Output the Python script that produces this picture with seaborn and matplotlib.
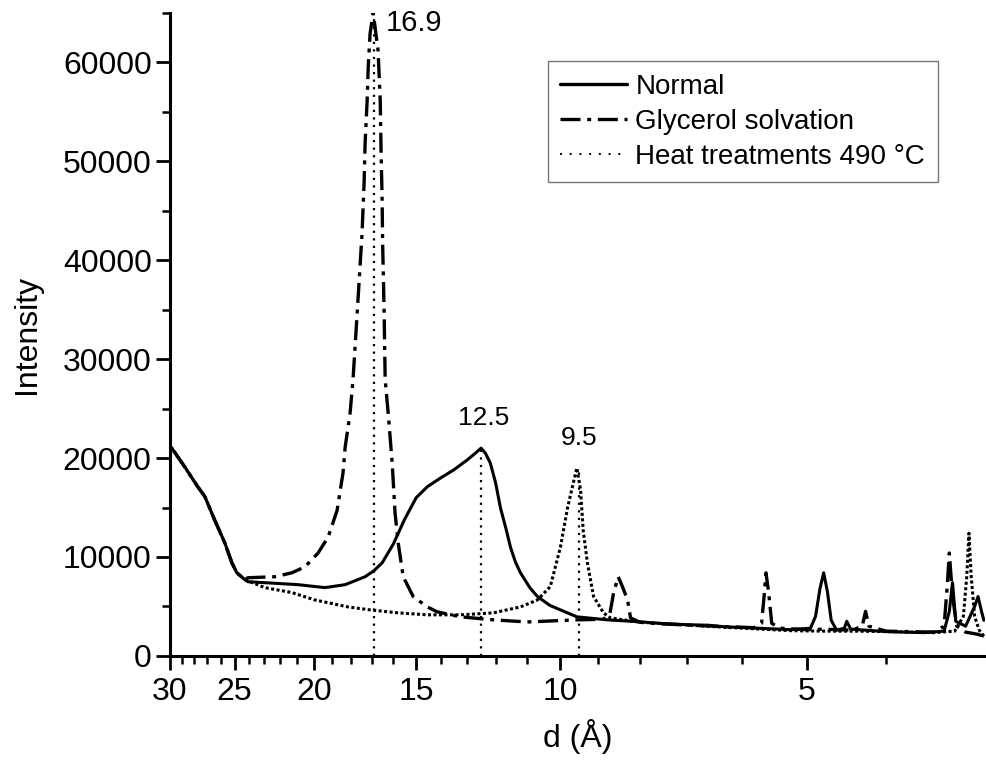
import matplotlib
matplotlib.use("Agg")
from matplotlib import pyplot as plt
from matplotlib.lines import Line2D
from matplotlib.ticker import FixedLocator, NullFormatter
import pandas as pd
import seaborn as sns

# d spacing (A) and intensity
normal_d = [30.0, 29.83, 28.76, 27.73, 27.18, 26.43, 25.69, 25.19, 24.84, 24.29,
            24.08, 22.96, 20.92, 19.39, 18.32, 17.32, 16.9, 16.51, 16.0, 15.5,
            15.0, 14.54, 14.0, 13.5, 13.0, 12.7, 12.5, 12.35, 12.18, 12.0,
            11.84, 11.65, 11.51, 11.35, 11.19, 10.9, 10.67, 10.3, 10.0, 9.55,
            8.76, 8.0, 7.61, 7.0, 6.6, 6.32, 5.74, 5.23, 4.95, 4.88, 4.82, 4.77,
            4.72, 4.67, 4.60, 4.50, 4.47, 4.42, 4.24, 4.0, 3.60, 3.40, 3.35, 3.32,
            3.29, 3.20, 3.12, 3.09, 3.06, 3.04]
normal_i = [21200, 21000, 19100, 17100, 16100, 13700, 11400, 9400, 8400, 7700,
            7500, 7400, 7200, 6900, 7200, 8000, 8600, 9400, 11300, 13800,
            16000, 17100, 18000, 18800, 19800, 20500, 21000, 20500, 19500, 17500,
            15000, 12800, 11000, 9500, 8400, 6900, 6000, 5100, 4650, 3950,
            3640, 3450, 3300, 3150, 3100, 2950, 2800, 2650, 2800, 4000, 6800, 8400,
            6500, 3600, 2600, 2800, 3500, 2700, 2600, 2450, 2350, 2500, 4500, 7400,
            3500, 3000, 5000, 6000, 4500, 3600]

glycerol_d = [30.0, 29.83, 28.76, 27.73, 27.18, 26.43, 25.69, 25.19, 24.84, 24.29,
              24.08, 22.32, 21.28, 20.51, 19.77, 19.22, 18.74, 18.43, 18.32, 18.07,
              17.92, 17.70, 17.47, 17.37, 17.32, 17.22, 17.17, 17.08, 16.93, 16.70,
              16.60, 16.56, 16.51, 16.49, 16.42, 16.37, 16.23, 16.05, 15.92, 15.78,
              15.56, 15.13, 14.54, 14.14, 13.25, 12.07, 10.98, 9.55, 8.86, 8.70,
              8.61, 8.50, 8.40, 8.28, 8.21, 8.0, 7.61, 6.5, 5.80, 5.68, 5.64, 5.61,
              5.57, 5.52, 5.40, 5.0, 4.77, 4.4, 4.28, 4.24, 4.20, 4.0, 3.50, 3.40,
              3.37, 3.35, 3.32, 3.28, 3.20, 3.10, 3.04]
glycerol_i = [21200, 21000, 19100, 17100, 16100, 13700, 11400, 9400, 8400, 7700,
              7900, 8000, 8400, 9000, 10400, 12000, 14700, 18500, 21100, 24500,
              27900, 35000, 42700, 47800, 51800, 56200, 59500, 62900, 65000, 61200,
              56200, 51100, 46100, 42000, 35000, 27900, 24500, 19500, 14400, 11400,
              8000, 6000, 4950, 4450, 3950, 3640, 3430, 3640, 3700, 4300,
              6400, 8000, 7000, 5650, 3840, 3400, 3250, 3000, 2850, 3300, 6000, 8400,
              6500, 3300, 2800, 2650, 2700, 2600, 3000, 4500, 3000, 2500, 2400, 3000,
              7000, 10400, 6000, 3000, 2400, 2200, 2000]

heat_d = [30.0, 29.83, 28.76, 27.73, 27.18, 26.43, 25.69, 25.19, 24.84, 24.29,
          22.96, 21.28, 19.94, 18.17, 17.08, 15.78, 14.54, 13.25, 12.07, 11.19,
          10.67, 10.29, 10.0, 9.80, 9.55, 9.45, 9.38, 9.27, 9.11, 8.86, 8.69,
          8.0, 7.61, 6.32, 5.23, 4.77, 4.36, 3.95, 3.50, 3.30, 3.22, 3.19, 3.17,
          3.15, 3.12, 3.08, 3.04]
heat_i = [21200, 21000, 19100, 17100, 16100, 13700, 11400, 9400, 8400, 7700,
          6900, 6400, 5650, 4950, 4650, 4350, 4150, 4150, 4350, 4950,
          5650, 7000, 11000, 15000, 19000, 16800, 12700, 9400, 6000, 4350, 3840,
          3400, 3300, 2900, 2550, 2500, 2500, 2450, 2350, 2500, 4000, 8000, 12400,
          8000, 4000, 2600, 2000]

peak_d = [16.9, 12.5, 9.5]
peak_i = [65000, 21000, 19000]
peak_labels = ["16.9", "12.5", "9.5"]

major_d = [30, 25, 20, 15, 10, 5]
minor_d = [d for d in range(3, 30) if d not in major_d]

sns.set_style("ticks")
plt.rcParams["font.family"] = ["Liberation Sans", "DejaVu Sans"]
plt.rcParams["text.color"] = "black"
plt.rcParams["axes.labelcolor"] = "black"
plt.rcParams["xtick.color"] = "black"
plt.rcParams["ytick.color"] = "black"

fig = plt.figure(figsize=(9.87, 7.6), dpi=100)
ax = fig.add_axes([0.172, 0.137, 0.826, 0.846])

df_n = pd.DataFrame({"d": normal_d, "I": normal_i})
df_g = pd.DataFrame({"d": glycerol_d, "I": glycerol_i})
df_h = pd.DataFrame({"d": heat_d, "I": heat_i})

sns.lineplot(data=df_n, x="d", y="I", ax=ax, color="black", lw=2.2, estimator=None)
sns.lineplot(data=df_g, x="d", y="I", ax=ax, color="black", lw=2.4, estimator=None,
             linestyle=(0, (6, 2, 1.2, 2)))
sns.lineplot(data=df_h, x="d", y="I", ax=ax, color="black", lw=2.2, estimator=None,
             linestyle=(0, (1, 0.8)))

# peak marker lines
for d, i in zip(peak_d, peak_i):
    ax.plot([d, d], [0, i], color="black", lw=1.6, linestyle=(0, (1, 2.4)))

ax.text(16.35, 64000, peak_labels[0], fontsize=21, ha="left", va="center")
ax.text(12.4, 24000, peak_labels[1], fontsize=19, ha="center", va="center")
ax.text(9.5, 22000, peak_labels[2], fontsize=19, ha="center", va="center")

ax.set_xscale("log")
ax.set_xlim(30, 3.03)
ax.set_ylim(0, 65000)
ax.xaxis.set_major_locator(FixedLocator(major_d))
ax.set_xticklabels([str(d) for d in major_d])
ax.xaxis.set_minor_locator(FixedLocator(minor_d))
ax.xaxis.set_minor_formatter(NullFormatter())
ax.set_yticks(range(0, 60001, 10000))
ax.yaxis.set_minor_locator(FixedLocator(range(5000, 65001, 10000)))

ax.tick_params(axis="both", which="major", labelsize=23, length=10, width=2.0,
               direction="out")
ax.tick_params(axis="both", which="minor", length=6, width=1.8, direction="out")
ax.tick_params(axis="x", which="major", pad=5)
ax.tick_params(axis="y", which="major", pad=3)

for side in ["top", "right"]:
    ax.spines[side].set_visible(False)
for side in ["left", "bottom"]:
    ax.spines[side].set_linewidth(2.2)
    ax.spines[side].set_color("black")

ax.set_xlabel("d (Å)", fontsize=23, labelpad=9)
ax.set_ylabel("Intensity", fontsize=23, labelpad=15)

handles = [
    Line2D([], [], color="black", lw=2.4),
    Line2D([], [], color="black", lw=2.4, linestyle=(0, (6, 2, 1.2, 2))),
    Line2D([], [], color="black", lw=1.4, linestyle=(0, (1, 4))),
]
labels = ["Normal", "Glycerol solvation", "Heat treatments 490 °C"]
leg = ax.legend(handles, labels, loc="upper right", bbox_to_anchor=(0.942, 0.925),
                borderaxespad=0, fontsize=20, handlelength=2.4, handletextpad=0.3,
                labelspacing=0.33, borderpad=0.45, fancybox=False, framealpha=1)
leg.get_frame().set_edgecolor("#777777")
leg.get_frame().set_linewidth(1.0)

fig.savefig("out.png", dpi=100)
